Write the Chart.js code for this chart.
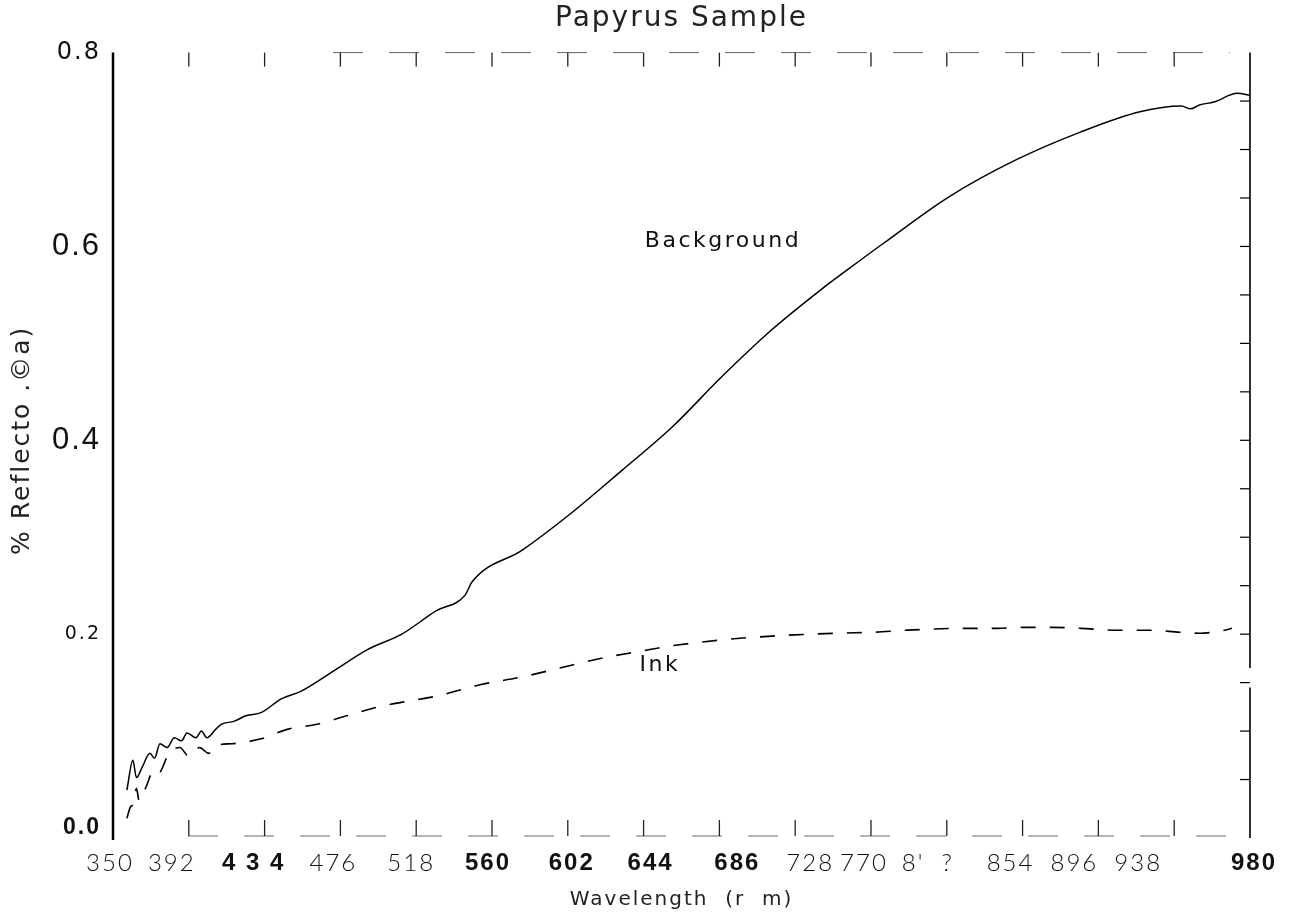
<!DOCTYPE html>
<html><head><meta charset="utf-8">
<script src="https://cdn.jsdelivr.net/npm/chart.js@4.4.1/dist/chart.umd.min.js"></script>
<style>html,body{margin:0;padding:0;background:#fff;}#wrap{width:1291px;height:924px;position:relative;}</style>
</head><body><div id="wrap"><canvas id="c" width="1291" height="924"></canvas></div>
<script>
// ---- text ----
const chartTitle = "Papyrus Sample";
const xAxisTitle = "Wavelength  (r  m)";
const yAxisTitle = "% Reflecto .\u00A9a)";

// ---- axes ----
const xTickValues = [350,392,434,476,518,560,602,644,686,728,770,812,854,896,938,980];
const xTickLabels = ["350","392","4 3 4","476","518","560","602","644","686","728","770","8'  ?","854","896","938","980"];
const xTickBold   = [false,false,true,false,false,true,true,true,true,false,false,false,false,false,false,true];
const yTickValues = [0.0,0.2,0.4,0.6,0.8];
const yTickLabels = ["0.0","0.2","0.4","0.6","0.8"];
const yTickStyle  = ["bold","thinSmall","narrow","narrow","thin"];
// horizontal nudge of each x tick label, in px (layout only)
const xLabelNudge = [-3,-17,-11,-7,-5,-4,4,7,18,15,-7,-19,-12,-24,-36,4];

// ---- series: Background (solid) ----
const bgWavelength = [357.7,361,363,366,370.5,373,376,380,384,388,391,396,399,402,407,410,417,424,432,443,454,473,491,510,529,545,549,577,604,632,660,687,715,742,757,776,813,850,886,919,942,947,952,960,973,980];
const bgReflect    = [0.039,0.070,0.052,0.062,0.077,0.072,0.087,0.083,0.093,0.090,0.098,0.093,0.100,0.093,0.102,0.107,0.110,0.116,0.119,0.133,0.141,0.163,0.184,0.200,0.224,0.240,0.254,0.287,0.325,0.369,0.414,0.465,0.514,0.555,0.576,0.602,0.651,0.689,0.718,0.739,0.745,0.742,0.746,0.749,0.758,0.756];

// ---- series: Ink (dashed) ----
const inkWavelength = [357.7,359.5,361.5,363,364.5,368,372.6,375,381,387,392,398,403,407,416,432,447,463,480,497,514,529,554,577,604,623,641,656,687,715,752,772,789,822,840,853,870,886,908,925,941,952,966,970];
const inkReflect    = [0.010,0.021,0.026,0.041,0.028,0.041,0.059,0.056,0.077,0.083,0.074,0.083,0.077,0.085,0.087,0.092,0.102,0.107,0.116,0.125,0.131,0.136,0.148,0.156,0.168,0.176,0.182,0.187,0.194,0.198,0.201,0.202,0.204,0.206,0.206,0.207,0.207,0.206,0.204,0.204,0.202,0.201,0.204,0.206];

// ---- in-plot labels ----
const noteTexts = ["Background","Ink"];
const noteX     = [688,653];
const noteY     = [0.605,0.168];

const WIDE = "'DejaVu Sans', sans-serif";
const THIN = "Lato, 'Open Sans', sans-serif";
const NARROW = "'Liberation Sans Narrow', 'Liberation Sans', Arial, sans-serif";
const BOLD = "'Liberation Sans', Arial, sans-serif";

function pts(xs, ys){ return xs.map((v,i)=>({x:v, y:ys[i]})); }

const spacingPlugin = {
  id: 'spacing',
  beforeDraw(chart){
    chart.ctx.letterSpacing = '2px';
    const xs = chart.scales.x;
    const items = xs.getLabelItems(chart.chartArea);
    items.forEach((it, i) => {
      if (it._nudged) return;
      const idx = xTickValues.indexOf(xs.ticks[i] ? xs.ticks[i].value : NaN);
      if (idx >= 0 && it.options && it.options.translation) it.options.translation[0] += xLabelNudge[idx];
      it._nudged = true;
    });
  },
  beforeDatasetsDraw(chart){ chart.ctx.letterSpacing = '0px'; }
};

const framePlugin = {
  id: 'frame',
  afterDatasetsDraw(chart){
    const {ctx, chartArea:{left,right,top,bottom}, scales:{x,y}} = chart;
    ctx.save();
    ctx.letterSpacing = '0px';
    // left axis
    ctx.strokeStyle = '#000'; ctx.lineWidth = 2.5; ctx.setLineDash([]);
    ctx.beginPath(); ctx.moveTo(left, top); ctx.lineTo(left, bottom+12); ctx.stroke();
    // right axis (with a break)
    ctx.lineWidth = 1.6;
    const gapTop = y.getPixelForValue(0.165), gapBot = y.getPixelForValue(0.145);
    ctx.beginPath(); ctx.moveTo(right, top); ctx.lineTo(right, gapTop);
    ctx.moveTo(right, gapBot); ctx.lineTo(right, bottom+10); ctx.stroke();
    // right minor ticks every 0.05
    ctx.lineWidth = 1.2;
    for (let k = 1; k < 16; k++) {
      const py = y.getPixelForValue(k * 0.05);
      ctx.beginPath(); ctx.moveTo(right, py); ctx.lineTo(right-10, py); ctx.stroke();
    }
    // top and bottom edges (faint, broken)
    ctx.strokeStyle = '#666'; ctx.lineWidth = 1; ctx.setLineDash([30, 26]);
    ctx.beginPath(); ctx.moveTo(left+220, top); ctx.lineTo(right-20, top); ctx.stroke();
    ctx.beginPath(); ctx.moveTo(left+75, bottom+8); ctx.lineTo(right, bottom+8); ctx.stroke();
    ctx.setLineDash([]);
    // inward ticks on top and bottom at tick values
    ctx.strokeStyle = '#222'; ctx.lineWidth = 1.3;
    xTickValues.forEach((v,i)=>{
      if (i===0 || i===xTickValues.length-1) return;
      const px = x.getPixelForValue(v);
      ctx.beginPath(); ctx.moveTo(px, top); ctx.lineTo(px, top+14); ctx.stroke();
      ctx.beginPath(); ctx.moveTo(px, bottom+8); ctx.lineTo(px, bottom-8); ctx.stroke();
    });
    // in-plot labels
    ctx.fillStyle = '#111';
    ctx.letterSpacing = '2.5px';
    ctx.font = "22px " + WIDE;
    ctx.textAlign = 'center'; ctx.textBaseline = 'middle';
    noteTexts.forEach((t,i)=>{
      ctx.fillText(t, x.getPixelForValue(noteX[i]), y.getPixelForValue(noteY[i]));
    });
    ctx.restore();
  }
};

new Chart(document.getElementById('c'), {
  type: 'line',
  data: {
    datasets: [
      { label: 'Background', data: pts(bgWavelength, bgReflect), borderColor: '#000', borderWidth: 1.5,
        pointRadius: 0, fill: false, cubicInterpolationMode: 'monotone' },
      { label: 'Ink', data: pts(inkWavelength, inkReflect), borderColor: '#000', borderWidth: 1.6,
        borderDash: [15, 14], pointRadius: 0, fill: false, cubicInterpolationMode: 'monotone' }
    ]
  },
  options: {
    responsive: false, animation: false, devicePixelRatio: 1,
    layout: { padding: { left: 0, right: 38, top: 0, bottom: 0 } },
    plugins: {
      legend: { display: false }, tooltip: { enabled: false },
      title: { display: true, text: chartTitle, fullSize: false, color: '#222',
        font: { family: WIDE, size: 28, weight: 'normal' }, padding: { top: 2, bottom: 17 } }
    },
    scales: {
      x: {
        type: 'linear', min: 350, max: 980,
        afterBuildTicks: (s) => { s.ticks = xTickValues.map(v => ({ value: v })); },
        afterFit: (s) => { s.height = 96; },
        grid: { display: false, drawTicks: false }, border: { display: false },
        ticks: {
          autoSkip: false, maxRotation: 0, padding: 21, color: '#111',
          callback: (v) => { const i = xTickValues.indexOf(v); return i >= 0 ? xTickLabels[i] : ''; },
          font: (c) => {
            const i = c.index;
            return xTickBold[i] ? { family: BOLD, size: 24, weight: 'bold' } : { family: THIN, size: 24, weight: '300' };
          }
        },
        title: { display: true, text: xAxisTitle, color: '#222', font: { family: WIDE, size: 20, weight: 'normal' }, padding: { top: 12, bottom: 12 } }
      },
      y: {
        type: 'linear', min: 0, max: 0.8,
        afterBuildTicks: (s) => { s.ticks = yTickValues.map(v => ({ value: v })); },
        afterFit: (s) => { s.width = 113; },
        grid: { display: false, drawTicks: false }, border: { display: false },
        ticks: {
          padding: 12, color: '#111',
          callback: (v) => { const i = yTickValues.findIndex(t => Math.abs(t - v) < 1e-6); return i >= 0 ? yTickLabels[i] : ''; },
          font: (c) => {
            const st = yTickStyle[c.index];
            if (st === 'bold') return { family: BOLD, size: 23, weight: 'bold' };
            if (st === 'narrow') return { family: NARROW, size: 31, weight: 'normal' };
            if (st === 'thinSmall') return { family: WIDE, size: 19, weight: 'normal' };
            return { family: WIDE, size: 24, weight: 'normal' };
          }
        },
        title: { display: true, text: yAxisTitle, color: '#222', font: { family: WIDE, size: 25, weight: 'normal' }, padding: { top: 7 } }
      }
    }
  },
  plugins: [spacingPlugin, framePlugin]
});
</script></body></html>
